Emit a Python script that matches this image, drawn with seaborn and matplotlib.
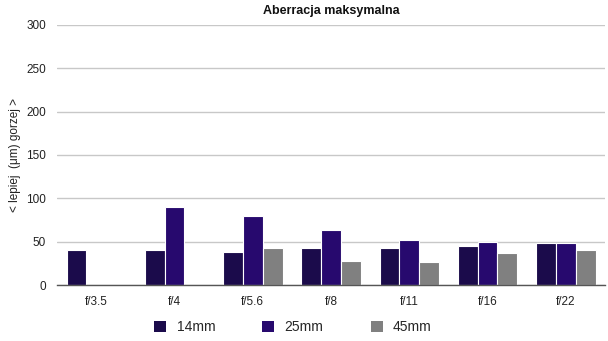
import matplotlib
matplotlib.use("Agg")
import matplotlib.pyplot as plt
import seaborn as sns
import pandas as pd

categories = ["f/3.5", "f/4", "f/5.6", "f/8", "f/11", "f/16", "f/22"]
series_names = ["14mm", "25mm", "45mm"]
v14 = [41, 41, 38, 43, 43, 45, 48]
v25 = [None, 90, 80, 63, 52, 50, 48]
v45 = [None, None, 43, 28, 27, 37, 41]

rows = []
for name, vals in zip(series_names, [v14, v25, v45]):
    for c, v in zip(categories, vals):
        rows.append({"f": c, "lens": name, "val": v})
df = pd.DataFrame(rows)

sns.set_theme(style="white")
plt.rcParams['font.family'] = ['Liberation Sans', 'DejaVu Sans']

fig = plt.figure(figsize=(6.08, 3.41), dpi=100)
ax = fig.add_axes([0.094, 0.164, 0.901, 0.763])
palette = {"14mm": "#1b0b4b", "25mm": "#27096e", "45mm": "#808080"}
sns.barplot(data=df, x="f", y="val", hue="lens", order=categories,
            hue_order=series_names, palette=palette, width=0.76,
            edgecolor="white", linewidth=0.8, ax=ax, saturation=1)
ax.set_ylim(0, 300)
ax.set_yticks(range(0, 301, 50))
ax.yaxis.grid(True, color="#c8c8c8", linewidth=1)
ax.set_axisbelow(True)
for s in ["top", "right", "left"]:
    ax.spines[s].set_visible(False)
ax.spines["bottom"].set_color("#555555")
ax.spines["bottom"].set_linewidth(1)
ax.tick_params(axis="both", length=0, labelsize=8.5, colors="#222222")
ax.tick_params(axis="x", pad=8)
ax.tick_params(axis="y", pad=8)
ax.set_xlabel("")
ax.set_ylabel("< lepiej  (\u03bcm) gorzej >", fontsize=8.5, color="#222222", labelpad=4)
ax.set_title("Aberracja maksymalna", fontsize=9, fontweight="bold", pad=8, color="#111111")
handles, labels = ax.get_legend_handles_labels()
for h in handles:
    h.set_edgecolor("none")
ax.legend(handles, labels, loc="center", bbox_to_anchor=(0.482, 0.040),
          bbox_transform=fig.transFigure,
          ncol=3, frameon=False, fontsize=10, handlelength=0.85, handleheight=0.85,
          columnspacing=3.4, handletextpad=0.75)
fig.savefig("out.png", dpi=100)
